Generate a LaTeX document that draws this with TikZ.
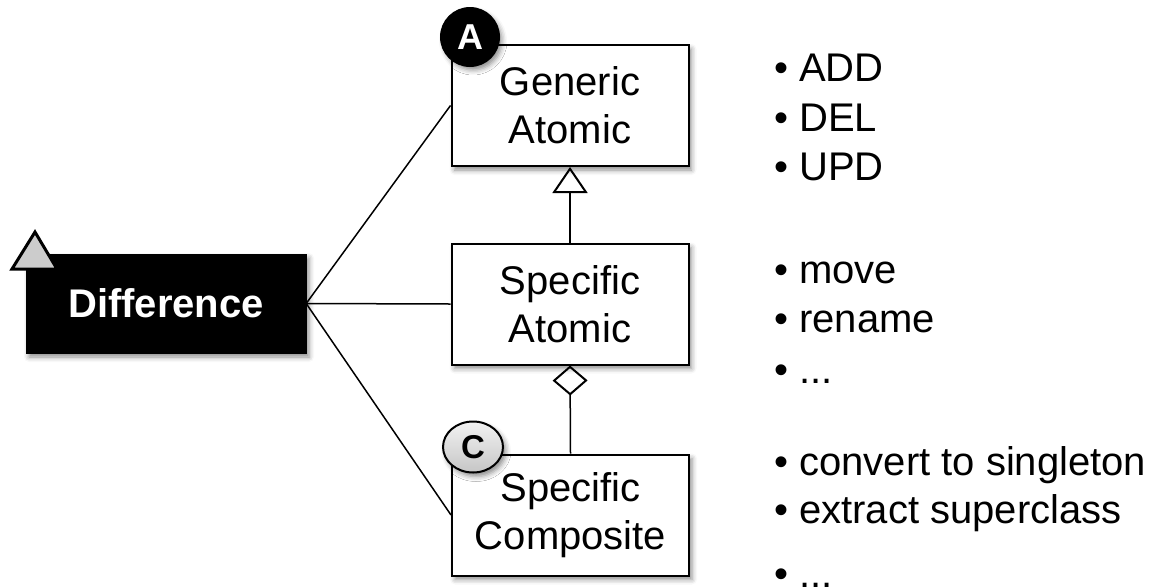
\documentclass[tikz,border=0pt]{standalone}
\usepackage{fontspec}
\setmainfont{Liberation Sans}
\usetikzlibrary{arrows.meta,shapes.geometric,shadows.blur}

\tikzset{
  softshadow/.style={blur shadow={shadow xshift=3pt,shadow yshift=-4pt,shadow blur radius=5pt,shadow opacity=45}},
  classbox/.style={draw=black,line width=2pt,fill=white,minimum width=237pt,minimum height=121pt,
    align=center,font=\fontsize{40}{48}\selectfont,inner sep=0pt,softshadow},
  rootbox/.style={draw=black,fill=black,minimum width=280pt,minimum height=99pt,
    text=white,font=\fontsize{40}{48}\selectfont\bfseries,inner sep=0pt,softshadow},
  link/.style={draw=black,line width=1.5pt},
  item/.style={anchor=base west,inner sep=0pt,font=\fontsize{40}{48}\selectfont},
  badge/.style={draw=black,line width=2pt,inner sep=0pt,softshadow}
}

\begin{document}
\begin{tikzpicture}[x=1pt,y=-1pt]
\useasboundingbox (0,0) rectangle (1164,587);

% class boxes
\node[classbox] (gen)  at (570,105.5) {Generic\\Atomic};
\node[classbox] (spa)  at (570,304)   {Specific\\Atomic};
\node[classbox] (comp) at (570.5,515) {Specific\\Composite};

% root concept
\node[rootbox] (diff) at (166,303.5) {Difference};
\draw[line width=3pt,line join=miter,fill=gray!40] (12,269) -- (35,232) -- (57,269) -- cycle;

% associations from the root
\draw[link] (diff.east) -- (gen.west);
\draw[link] (diff.east) -- (spa.west);
\draw[link] (diff.east) -- (comp.west);

% generalisation and aggregation
\draw[link,-{Triangle[open,length=26pt,width=35pt,line width=2pt]}] (spa.north) -- (gen.south);
\draw[link,-{Diamond[open,length=30pt,width=35pt,line width=2pt]}] (comp.north) -- (spa.south);

% badges
\node[badge,circle,fill=black,minimum size=58pt,text=white,
      font=\fontsize{36}{36}\selectfont\bfseries] (ba) at (470,37) {A};
\node[badge,ellipse,top color=gray!10,bottom color=gray!45,minimum width=60pt,minimum height=51pt,
      font=\fontsize{33}{33}\selectfont\bfseries] (bc) at (473,447) {C};

% operation lists
\node[item] (l1a) at (774,81)  {• ADD};
\node[item] (l1b) at (774,131) {• DEL};
\node[item] (l1c) at (774,180) {• UPD};

\node[item] (l2a) at (774,283) {• move};
\node[item] (l2b) at (774,332) {• rename};
\node[item] (l2c) at (774,383) {• ...};

\node[item] (l3a) at (774,475) {• convert to singleton};
\node[item] (l3b) at (774,523) {• extract superclass};
\node[item] (l3c) at (774,587) {• ...};
\end{tikzpicture}
\end{document}
